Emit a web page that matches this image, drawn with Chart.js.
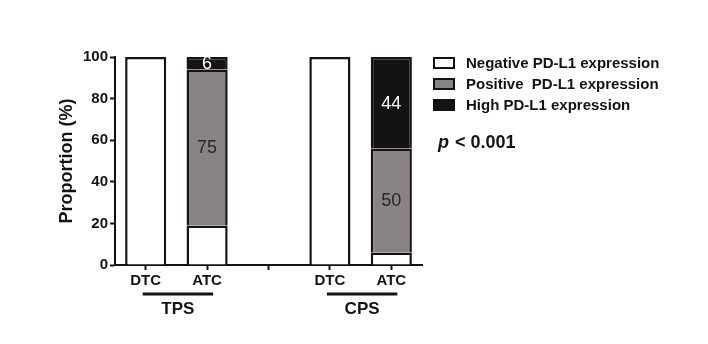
<!DOCTYPE html>
<html>
<head>
<meta charset="utf-8">
<script src="https://cdn.jsdelivr.net/npm/chart.js@4"></script>
<style>
  body { margin: 0; background: #fff; }
  canvas { display: block; }
</style>
</head>
<body>
<canvas id="chart" width="708" height="344"></canvas>
<script>
const categories = ['DTC', 'ATC', '', 'DTC', 'ATC'];
const negative = [100, 19, null, 100, 6];
const positive = [null, 75, null, null, 50];
const high = [null, 6, null, null, 44];
const groups = [
  { label: 'TPS', from: 0, to: 1 },
  { label: 'CPS', from: 3, to: 4 },
];
const yTicks = [0, 20, 40, 60, 80, 100];
const pText = 'p < 0.001';

const FONT = '"Liberation Sans", Arial, sans-serif';
const INK = '#151213';
const GREY = '#8a8384';

// value labels inside the ATC segments
const valueLabels = {
  id: 'valueLabels',
  afterDatasetsDraw(chart) {
    const { ctx } = chart;
    chart.data.datasets.forEach((ds, i) => {
      if (!ds.showValues) return;
      chart.getDatasetMeta(i).data.forEach((bar, j) => {
        const v = ds.data[j];
        if (v == null) return;
        const p = bar.getProps(['x', 'y', 'base'], true);
        ctx.save();
        ctx.font = '18px ' + FONT;
        ctx.fillStyle = ds.valueColor;
        ctx.textAlign = 'center';
        ctx.textBaseline = 'middle';
        ctx.fillText(String(v), p.x, (p.y + p.base) / 2 + 1);
        ctx.restore();
      });
    });
  },
};

// group brackets, legend and p value
const extras = {
  id: 'extras',
  afterDraw(chart) {
    const { ctx } = chart;
    const x = chart.scales.x;
    ctx.save();
    groups.forEach((g) => {
      const a = x.getPixelForValue(g.from) - 3;
      const b = x.getPixelForValue(g.to) + 6;
      ctx.strokeStyle = INK;
      ctx.lineWidth = 3;
      ctx.beginPath();
      ctx.moveTo(a, 294);
      ctx.lineTo(b, 294);
      ctx.stroke();
      ctx.fillStyle = INK;
      ctx.font = 'bold 17px ' + FONT;
      ctx.textAlign = 'center';
      ctx.textBaseline = 'middle';
      ctx.fillText(g.label, (a + b) / 2, 309);
    });

    chart.data.datasets.forEach((ds, i) => {
      const cy = 63 + i * 21;
      ctx.fillStyle = ds.backgroundColor;
      ctx.fillRect(434, cy - 5, 20, 10);
      ctx.strokeStyle = INK;
      ctx.lineWidth = 2;
      ctx.strokeRect(434, cy - 5, 20, 10);
      ctx.fillStyle = INK;
      ctx.font = 'bold 15px ' + FONT;
      ctx.textAlign = 'left';
      ctx.textBaseline = 'middle';
      ctx.fillText(ds.label, 466, cy + 1);
    });

    ctx.fillStyle = INK;
    ctx.textBaseline = 'middle';
    ctx.textAlign = 'left';
    ctx.font = 'italic bold 18px ' + FONT;
    const pLetter = pText.slice(0, 1);
    ctx.fillText(pLetter, 438, 143);
    const w = ctx.measureText(pLetter + ' ').width;
    ctx.font = 'bold 18px ' + FONT;
    ctx.fillText(pText.slice(1), 438 + w - 4, 143);
    ctx.restore();
  },
};

new Chart(document.getElementById('chart'), {
  type: 'bar',
  data: {
    labels: categories,
    datasets: [
      {
        label: 'Negative PD-L1 expression',
        data: negative,
        backgroundColor: '#ffffff',
      },
      {
        label: 'Positive  PD-L1 expression',
        data: positive,
        backgroundColor: GREY,
        showValues: true,
        valueColor: '#2a2626',
      },
      {
        label: 'High PD-L1 expression',
        data: high,
        backgroundColor: INK,
        showValues: true,
        valueColor: '#ffffff',
      },
    ].map((d) => ({
      ...d,
      borderColor: INK,
      borderWidth: { left: 2.5, right: 2.5, top: 2.5, bottom: 0 },
      borderSkipped: false,
      barPercentage: 0.67,
      categoryPercentage: 1,
    })),
  },
  options: {
    responsive: false,
    animation: false,
    layout: { padding: { left: 52, top: 57, right: 286, bottom: 0 } },
    plugins: {
      legend: { display: false },
      tooltip: { enabled: false },
    },
    scales: {
      x: {
        stacked: true,
        afterFit: (s) => { s.height = 79; },
        grid: {
          display: true,
          offset: false,
          drawOnChartArea: false,
          drawTicks: true,
          tickLength: 5,
          tickWidth: 2,
          color: INK,
        },
        border: { display: true, color: INK, width: 2 },
        ticks: {
          color: INK,
          padding: 2,
          maxRotation: 0,
          font: { family: FONT, size: 15, weight: 'bold' },
        },
      },
      y: {
        stacked: true,
        min: 0,
        max: 100,
        afterFit: (s) => { s.width = 63; },
        afterBuildTicks: (s) => { s.ticks = yTicks.map((v) => ({ value: v })); },
        grid: {
          display: true,
          drawOnChartArea: false,
          drawTicks: true,
          tickLength: 5,
          tickWidth: 2,
          color: INK,
        },
        border: { display: true, color: INK, width: 2 },
        ticks: {
          color: INK,
          padding: 2,
          font: { family: FONT, size: 15, weight: 'bold' },
        },
        title: {
          display: true,
          text: 'Proportion (%)',
          color: INK,
          padding: { top: 4, bottom: 4 },
          font: { family: FONT, size: 18, weight: 'bold' },
        },
      },
    },
  },
  plugins: [valueLabels, extras],
});
</script>
</body>
</html>
